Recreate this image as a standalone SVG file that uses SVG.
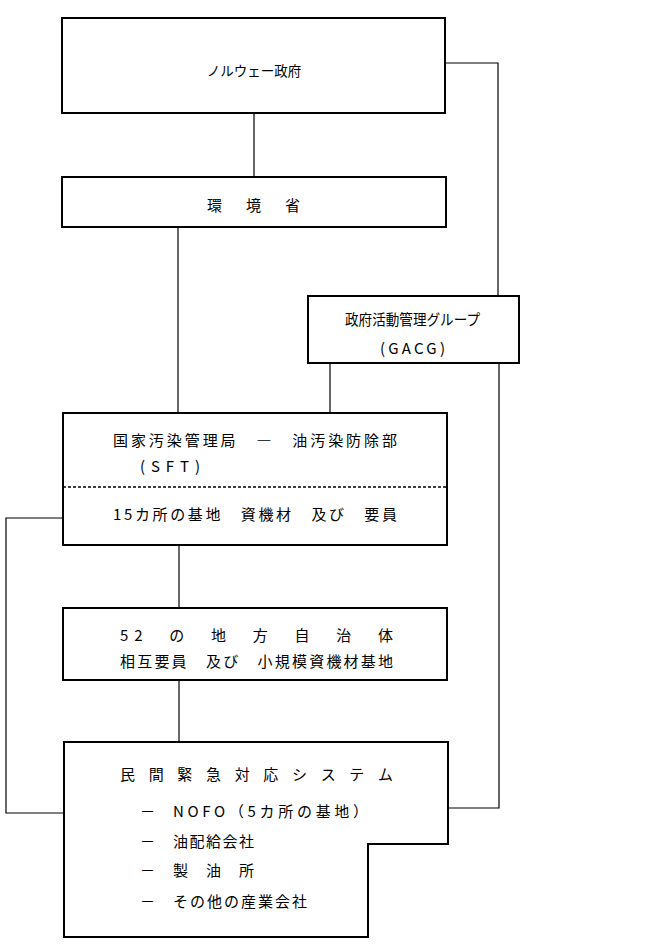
<svg xmlns="http://www.w3.org/2000/svg" width="650" height="947" viewBox="0 0 650 947">
<style>
.box{fill:#fff;stroke:#000;stroke-width:2}
.ln{fill:none;stroke:#000;stroke-width:1.2}
text{font-family:"Noto Sans CJK JP","Noto Sans",sans-serif;font-size:15px;fill:#000;dominant-baseline:central}
</style>
<rect width="650" height="947" fill="#fff"/>
<g id="connectors">
<polyline class="ln" points="445,63 498,63 498,296"/>
<polyline class="ln" points="499,363 499,808 448,808"/>
<line class="ln" x1="254" y1="113" x2="254" y2="177"/>
<line class="ln" x1="178" y1="227" x2="178" y2="413"/>
<line class="ln" x1="330" y1="363" x2="330" y2="413"/>
<polyline class="ln" points="63,518 6,518 6,813 64,813"/>
<line class="ln" x1="179" y1="545" x2="179" y2="608"/>
<line class="ln" x1="179" y1="680" x2="179" y2="742"/>
</g>
<g id="norway-gov">
<rect class="box" x="62" y="18" width="383" height="95"/>
<text x="254" y="70" text-anchor="middle" style="font-size:13.5px">ノルウェー政府</text>
</g>
<g id="ministry-env">
<rect class="box" x="62" y="177" width="384" height="50"/>
<text x="207" y="204" textLength="93" lengthAdjust="spacing">環　境　省</text>
</g>
<g id="gacg">
<rect class="box" x="308" y="296" width="211" height="67"/>
<text x="345" y="318" textLength="135" lengthAdjust="spacingAndGlyphs">政府活動管理グループ</text>
<text x="380" y="347" textLength="65" lengthAdjust="spacing">(GACG)</text>
</g>
<g id="sft">
<rect class="box" x="63" y="413" width="384" height="132"/>
<line x1="63" y1="487" x2="447" y2="487" stroke="#000" stroke-width="1.3" stroke-dasharray="3,2"/>
<text x="113" y="439" textLength="284" lengthAdjust="spacing">国家汚染管理局　―　油汚染防除部</text>
<text x="140" y="465" textLength="60" lengthAdjust="spacing">(SFT)</text>
<text x="113" y="513" textLength="284" lengthAdjust="spacing">15カ所の基地　資機材　及び　要員</text>
</g>
<g id="municipalities">
<rect class="box" x="63" y="608" width="384" height="72"/>
<text x="120" y="634" textLength="273" lengthAdjust="spacing">52　の　地　方　自　治　体</text>
<text x="120" y="660" textLength="273" lengthAdjust="spacing">相互要員　及び　小規模資機材基地</text>
</g>
<g id="private-response">
<polygon class="box" points="64,742 448,742 448,844 368,844 368,937 64,937"/>
<text x="120" y="773" textLength="273" lengthAdjust="spacing">民　間　緊　急　対　応　シ　ス　テ　ム</text>
<text x="140" y="810">－</text>
<text x="173" y="810" textLength="195" lengthAdjust="spacing">NOFO（5カ所の基地）</text>
<text x="140" y="840">－</text>
<text x="173" y="840" textLength="81" lengthAdjust="spacing">油配給会社</text>
<text x="140" y="869">－</text>
<text x="173" y="869" textLength="81" lengthAdjust="spacing">製　油　所</text>
<text x="140" y="900">－</text>
<text x="173" y="900" textLength="134" lengthAdjust="spacing">その他の産業会社</text>
</g>
</svg>
